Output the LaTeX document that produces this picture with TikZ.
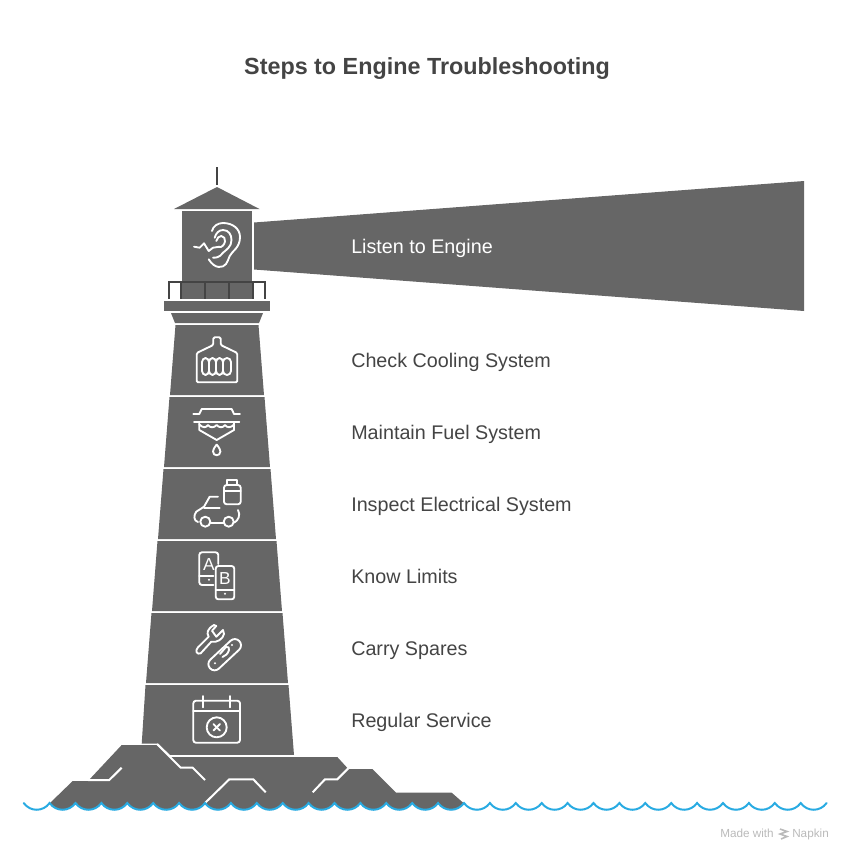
\documentclass[tikz,border=0pt]{standalone}
\usepackage{fontspec}
\setmainfont{Liberation Sans}
\definecolor{twr}{HTML}{666666}
\definecolor{txt}{HTML}{444444}
\definecolor{sea}{HTML}{29ABE2}
\begin{document}
\begin{tikzpicture}
[
	x=0.75pt,y=-0.75pt,
	lab/.style={anchor=base west,inner sep=0,text=txt,font=\fontsize{14.8}{18}\selectfont},
	ttl/.style={anchor=base,inner sep=0,text=txt,font=\fontsize{17.5}{22}\selectfont\bfseries},
	wmk/.style={anchor=base west,inner sep=0,text=black!27,font=\fontsize{8.8}{10}\selectfont},
	ltr/.style={inner sep=0,text=white,font=\fontsize{13}{15}\selectfont},
	ic/.style={draw=white,line width=1.4pt,line cap=round,line join=round},
	gap/.style={draw=white,line width=1.5pt},
	rail/.style={draw=txt,line width=1.4pt},
	wv/.style={draw=sea,line width=1.5pt,line cap=round}
]
\useasboundingbox (0,0) rectangle (851,858);

\node[ttl] (title) at (427,74.5) {Steps to Engine Troubleshooting};

% lantern
\draw[rail] (217,167) -- (217,185);
\fill[twr] (217,187) -- (259.5,209) -- (174,209) -- cycle;
\fill[twr] (182,211) rectangle (252,299);
\draw[rail] (169,299) -- (169,282) -- (265,282) -- (265,299);
\draw[rail] (181,282) -- (181,299);
\draw[rail] (205,282) -- (205,299);
\draw[rail] (229,282) -- (229,299);
\draw[rail] (253,282) -- (253,299);
\fill[twr] (164,301) rectangle (270,311);
\fill[twr] (171,313) -- (263,313) -- (259,323) -- (175,323) -- cycle;
\fill[twr] (254,222.5) -- (804,181) -- (804,311) -- (254,269.5) -- cycle;

% tower
\fill[twr] (175.5,325) -- (258.5,325) -- (264,395) -- (170,395) -- cycle;
\fill[twr] (169.5,397) -- (264.5,397) -- (270,467) -- (164,467) -- cycle;
\fill[twr] (163.5,469) -- (270.5,469) -- (276,539) -- (158,539) -- cycle;
\fill[twr] (157.5,541) -- (276.5,541) -- (282,611) -- (152,611) -- cycle;
\fill[twr] (151.5,613) -- (282.5,613) -- (288,683) -- (146,683) -- cycle;
\fill[twr] (145.5,685) -- (288.5,685) -- (294,755) -- (141,755) -- cycle;

% rocks
\fill[white] (119,743.5) -- (158,743.5) -- (172,757) -- (119,757) -- cycle;
\fill[twr] (50,803) -- (72.7,781) -- (88,781) -- (121.7,745) -- (156.7,745) -- (170,757)
	-- (337.3,757) -- (348.3,769) -- (372.3,769) -- (396,792.7) -- (451.7,792.7) -- (463.5,803) -- cycle;
\foreach \k [evaluate=\k as \a using 23.7+25.9*\k] in {1,...,16}
	\fill[twr] (\a,803) .. controls (\a+6.5,812) and (\a+19.4,812) .. (\a+25.9,803) -- cycle;
\draw[gap] (157,744) -- (180.7,767.7) -- (192.7,767.7) -- (205,780);
\draw[gap] (170,756) -- (294,756);
\draw[gap] (88,780) -- (109.3,780) -- (121.7,767.7);
\draw[gap] (205,803) -- (229.3,779.3) -- (253.3,779.3) -- (265.7,792.3);
\draw[gap] (348.3,768.3) -- (337.3,779.3) -- (325,779.3) -- (312.7,792.3);

% sea
\draw[wv] (23.7,803) \foreach \k [evaluate=\k as \a using 23.7+25.9*\k] in {0,...,30}
	{ .. controls (\a+6.5,812) and (\a+19.4,812) .. (\a+25.9,803) };

% ear
\draw[ic] (194,246.7) -- (199.7,247.7) -- (204,243.3) -- (208.7,251) -- (213,247.7) -- (219.7,246.7);
\draw[ic] (212,231) .. controls (213,226) and (218,223) .. (223,223)
	.. controls (233,223) and (240,229) .. (240,237) .. controls (240,248) and (232,251) .. (229.7,256)
	.. controls (228,260) and (227.5,262) .. (226,264) .. controls (223,268) and (215,269.5) .. (208.7,259.3);
\draw[ic] (214.7,237.7) .. controls (216,233) and (219,230) .. (223,230) .. controls (229,230) and (231.5,235) .. (231.5,240)
	.. controls (231.5,247) and (226,250) .. (223,252.7) .. controls (221,254) and (221,257.7) .. (213,257.7);
\draw[ic] (216.3,241) .. controls (217,238) and (219,236) .. (221.3,236) .. controls (224,236) and (225.5,239) .. (225,241.5)
	.. controls (224.5,245) and (221,248) .. (219,247);

% cooling
\draw[ic,rounded corners=1pt] (213.3,345) -- (213.3,337.3) -- (220.7,337.3) -- (220.7,345) -- (237.3,353) -- (237.3,382.3)
	-- (196.7,382.3) -- (196.7,353) -- cycle;
\draw[ic,rounded corners=3pt] (202,358) rectangle (209,375);
\draw[ic,rounded corners=3pt] (209,358) rectangle (216,375);
\draw[ic,rounded corners=3pt] (216,358) rectangle (223,375);
\draw[ic,rounded corners=3pt] (223,358) rectangle (231,375);

% fuel
\draw[ic] (193.3,414) -- (199.3,414) -- (201.7,409) -- (231.7,409) -- (234,414) -- (240,414);
\draw[ic] (194,422.3) -- (239.3,422.3);
\draw[ic] (199.3,422.3) -- (199.3,430) -- (216.7,440) -- (234,430) -- (234,422.3);
\draw[ic] (199.3,424.5) .. controls (203,428) and (206,428) .. (208,425) .. controls (210,428) and (214,428) .. (216.7,425)
	.. controls (219,428) and (223,428) .. (225,425) .. controls (227,428) and (231,428) .. (234,424.5);
\draw[ic] (216.7,444.5) .. controls (214,448) and (213,450) .. (213,451.5) .. controls (213,456.5) and (220.4,456.5) .. (220.4,451.5)
	.. controls (220.4,450) and (219.4,448) .. (216.7,444.5);

% electrical
\draw[ic,rounded corners=2pt] (224,485) rectangle (240.7,504.3);
\draw[ic] (227.3,485) -- (227.3,480) -- (237.3,480) -- (237.3,485);
\draw[ic] (224,491) -- (240.7,491);
\draw[ic] (218,496.7) -- (209.7,496.7) -- (204,506.7) -- (196.3,511.7) .. controls (193.5,515) and (193.5,521) .. (198,522);
\draw[ic] (204,507.7) -- (219.7,507.7);
\draw[ic] (205.3,521.7) circle (5);
\draw[ic] (228.7,521.7) circle (5);
\draw[ic] (210.7,523.3) -- (224,523.3);
\draw[ic] (234,522.7) .. controls (238,521) and (241,515) .. (238,510);

% limits
\draw[ic,rounded corners=2pt] (218.3,564) -- (218.3,552.3) -- (199.3,552.3) -- (199.3,585) -- (213.5,585);
\draw[ic] (199.3,576) -- (213.5,576);
\fill[white] (209,579.7) circle (1.1);
\draw[ic,rounded corners=2pt] (215.7,566) rectangle (234.3,599.3);
\draw[ic] (215.7,590) -- (234.3,590);
\fill[white] (225,593.7) circle (1.1);
\node[ltr] (la) at (209,565) {A};
\node[ltr] (lb) at (225,579) {B};

% spares
\draw[ic] (198,647.3) -- (208.7,636.7) .. controls (206.5,633) and (207,629) .. (214,625) -- (216.3,626) -- (212,630.7) -- (216.3,636.7)
	-- (223,630) -- (224,634) .. controls (223,639) and (217,643) .. (211.3,641.7) -- (200.7,653.3) .. controls (197,655) and (194.5,651) .. (198,647.3) -- cycle;
\draw[ic,rounded corners=4.6pt,shift={(224.7,654.7)},rotate=43] (-20,-6.2) rectangle (20,6.2);
\fill[white] (215,663.3) circle (1.1);
\fill[white] (232,645) circle (1.1);
\draw[ic] (220,654) -- (226,647) .. controls (228,646) and (230,648) .. (229,650) .. controls (228,654) and (225,656) .. (222.5,657);

% service
\draw[ic,rounded corners=2pt] (193.3,700.7) rectangle (240,742.7);
\draw[ic] (193.3,710.7) -- (240,710.7);
\draw[ic] (203.3,696) -- (203.3,707.3);
\draw[ic] (230,696) -- (230,707.3);
\draw[ic] (216.7,727.3) circle (10);
\draw[ic] (213.5,724.1) -- (219.9,730.5);
\draw[ic] (219.9,724.1) -- (213.5,730.5);

\node[lab,text=white] (s1) at (351,253) {Listen to Engine};
\node[lab] (s2) at (351,367) {Check Cooling System};
\node[lab] (s3) at (351,439) {Maintain Fuel System};
\node[lab] (s4) at (351,511) {Inspect Electrical System};
\node[lab] (s5) at (351,583) {Know Limits};
\node[lab] (s6) at (351,655) {Carry Spares};
\node[lab] (s7) at (351,727) {Regular Service};

\node[wmk] (made) at (720,837) {Made with};
\draw[draw=black!27,line width=1.2pt] (780,829) -- (787,831.5) -- (780,834) -- (787,836.5) -- (781,839);
\node[wmk] (napkin) at (792,837) {Napkin};
\end{tikzpicture}
\end{document}
